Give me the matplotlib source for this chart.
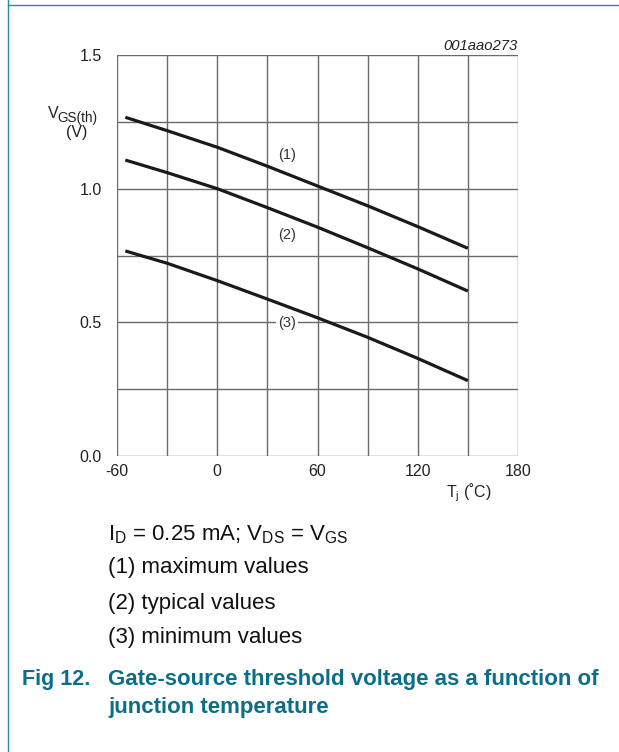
import matplotlib
matplotlib.use("Agg")
import matplotlib.pyplot as plt
from matplotlib.lines import Line2D

plt.rcParams['font.family'] = ['Liberation Sans', 'DejaVu Sans']
plt.rcParams['mathtext.fontset'] = 'custom'
plt.rcParams['mathtext.rm'] = 'Liberation Sans'

temps = [-55, -30, 0, 30, 60, 90, 120, 150]
vmax = [1.267, 1.217, 1.155, 1.084, 1.010, 0.936, 0.858, 0.777]
vtyp = [1.107, 1.060, 1.000, 0.929, 0.856, 0.779, 0.700, 0.617]
vmin = [0.767, 0.721, 0.656, 0.587, 0.517, 0.444, 0.365, 0.282]
xticks = [-60, 0, 60, 120, 180]
xgrid = [-60, -30, 0, 30, 60, 90, 120, 150, 180]
yticks = [0.0, 0.5, 1.0, 1.5]
ygrid = [0.0, 0.25, 0.5, 0.75, 1.0, 1.25, 1.5]
labels = [("(1)", 42, 1.126), ("(2)", 42, 0.827), ("(3)", 42, 0.498)]

W, H = 619, 752
fig = plt.figure(figsize=(W/100, H/100), dpi=100)
ax = fig.add_axes([117/W, (H-456)/H, (518-117)/W, (456-55)/H])
ax.set_xlim(-60, 180)
ax.set_ylim(0, 1.5)
gridc = '#6a6a6a'
for x in xgrid:
    ax.axvline(x, color=gridc, lw=1.0, zorder=1)
for y in ygrid:
    ax.axhline(y, color=gridc, lw=1.0, zorder=1)
for s in ax.spines.values():
    s.set_visible(False)
ax.set_xticks(xticks)
ax.set_yticks(yticks)
ax.set_xticklabels([str(t) for t in xticks])
ax.set_yticklabels(["%.1f" % t for t in yticks])
ax.tick_params(length=0, labelsize=11.5, colors='#222222', pad=6)
ax.tick_params(axis='y', pad=11)

for v in (vmax, vtyp, vmin):
    ax.plot(temps, v, color='#1a1a1a', lw=2.3, solid_capstyle='butt',
            solid_joinstyle='round', zorder=3)

for t, x, y in labels:
    ax.text(x, y, t, ha='center', va='center', fontsize=10.5, color='#333333',
            bbox=dict(facecolor='white', edgecolor='none', pad=1.5), zorder=4)

tc = '#222222'
# y axis label: V with large subscript
fig.text(48/W, 1-114/H, 'V', ha='left', va='center', fontsize=11.5, color=tc)
fig.text(57.5/W, 1-118/H, 'GS(th)', ha='left', va='center', fontsize=9.8, color=tc)
fig.text(77/W, 1-132/H, '(V)', ha='center', va='center', fontsize=11.5, color=tc)
# x axis label
fig.text(469/W, 1-493/H, 'T$_{\\mathregular{j}}$ (\u02daC)', ha='center', va='center', fontsize=11.5, color=tc)
fig.text(518/W, 1-46/H, '001aao273', ha='right', va='center', fontsize=10.7, style='italic', color=tc)

# notes
fs = 16
nc = '#111111'
fig.text(108/W, 1-535/H, r'I$_{\mathregular{D}}$ = 0.25 mA; V$_{\mathregular{DS}}$ = V$_{\mathregular{GS}}$', ha='left', va='center', fontsize=fs, color=nc)
fig.text(108/W, 1-568/H, '(1) maximum values', ha='left', va='center', fontsize=fs, color=nc)
fig.text(108/W, 1-603/H, '(2) typical values', ha='left', va='center', fontsize=fs, color=nc)
fig.text(108/W, 1-638/H, '(3) minimum values', ha='left', va='center', fontsize=fs, color=nc)

teal = '#0a6e88'
fig.text(22/W, 1-680/H, 'Fig 12.', ha='left', va='center', fontsize=15.5, fontweight='bold', color=teal)
fig.text(108/W, 1-680/H, 'Gate-source threshold voltage as a function of', ha='left', va='center', fontsize=16, fontweight='bold', color=teal)
fig.text(108/W, 1-707/H, 'junction temperature', ha='left', va='center', fontsize=16, fontweight='bold', color=teal)

# frame lines
fig.add_artist(Line2D([7.5/W, 7.5/W], [0, 1], color='#2a8aa0', lw=1.0, transform=fig.transFigure))
fig.add_artist(Line2D([7.5/W, 1], [1-4.5/H, 1-4.5/H], color='#2a8aa0', lw=1.0, transform=fig.transFigure))

fig.savefig('out.png', dpi=100)
